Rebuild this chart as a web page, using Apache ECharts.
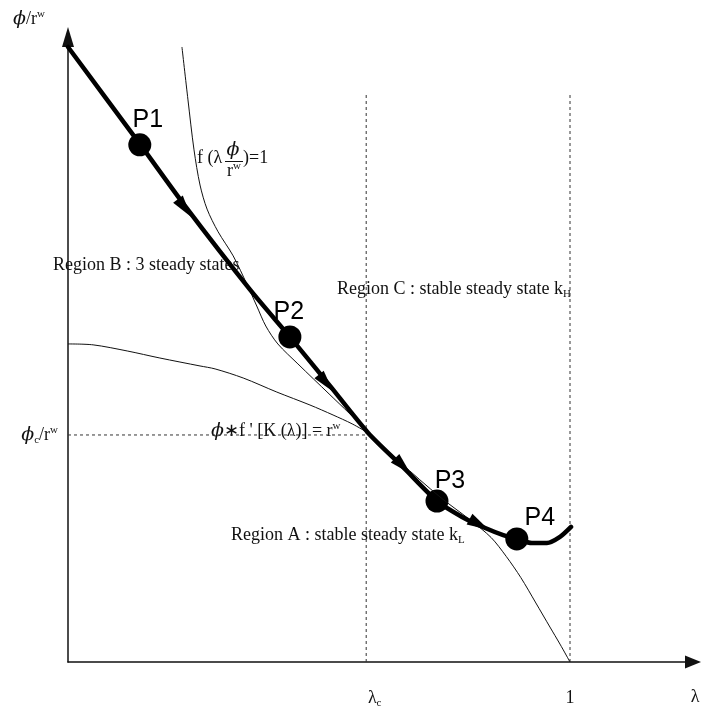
<!DOCTYPE html>
<html>
<head>
<meta charset="utf-8">
<script src="https://cdn.jsdelivr.net/npm/echarts@6/dist/echarts.min.js"></script>
<style>
  html, body { margin: 0; padding: 0; background: #fff; }
  #chart { width: 701px; height: 715px; }
</style>
</head>
<body>
<div id="chart"></div>
<script>
// Critical thresholds
const lambdaC = 0.594;
const phiC = 1.0;
const guideTop = 2.5;

// Tick labels ("_" = subscript, "^" = superscript)
const xTickValues = [lambdaC, 1];
const xTickLabels = ['λ_c', '1'];
const yTickValues = [phiC];
const yTickLabels = ['ϕ_c/r^w'];

// Adjustment path of the economy (thick line)
const pathLambda = [0.000, 0.143, 0.233, 0.363, 0.442, 0.522, 0.598, 0.667, 0.735, 0.785, 0.831, 0.867, 0.894, 0.924, 0.954, 0.980, 1.002];
const pathPhi    = [2.709, 2.282, 2.009, 1.639, 1.432, 1.216, 1.009, 0.859, 0.709, 0.639, 0.590, 0.559, 0.542, 0.524, 0.524, 0.551, 0.595];

// f(λ ϕ / r^w) = 1
const fLambda = [0.227, 0.239, 0.251, 0.263, 0.277, 0.299, 0.329, 0.357, 0.376, 0.394, 0.418, 0.458, 0.520, 0.560, 0.598, 0.661, 0.741, 0.801, 0.843, 0.873, 0.902, 0.932, 0.960, 0.980, 1.000];
const fPhi    = [2.709, 2.476, 2.256, 2.101, 1.995, 1.895, 1.789, 1.661, 1.568, 1.480, 1.401, 1.313, 1.181, 1.096, 1.013, 0.881, 0.727, 0.626, 0.548, 0.465, 0.372, 0.260, 0.154, 0.079, 0.000];

// ϕ * f'[K(λ)] = r^w
const mLambda = [0.000, 0.050, 0.118, 0.183, 0.263, 0.293, 0.349, 0.416, 0.482, 0.528, 0.566, 0.598];
const mPhi    = [1.401, 1.397, 1.370, 1.339, 1.304, 1.291, 1.251, 1.189, 1.132, 1.088, 1.049, 1.009];

// Named states along the path
const stateNames  = ['P1', 'P2', 'P3', 'P4'];
const stateLambda = [0.143, 0.442, 0.735, 0.894];
const statePhi    = [2.278, 1.432, 0.709, 0.542];

// Direction markers along the path
const arrowLambda = [0.232, 0.514, 0.667, 0.819];
const arrowPhi    = [2.000, 1.229, 0.863, 0.606];

// ---- styling ----
const serif = "'Liberation Serif', 'Times New Roman', serif";
const greek = "'DejaVu Serif', 'Liberation Serif', serif";
const sans = "'Liberation Sans', Arial, sans-serif";
const arrowRotate = [-143.7, -140.7, -135, -118.8];
const stateLabelOffset = [[8, -25], [-1, -25], [13, -20], [23, -21]];

function pairs(xs, ys) { return xs.map((x, i) => [x, ys[i]]); }

// Turn "a_b^c" into rich-text tokens; ϕ gets its own glyph style
function rt(s) {
  let out = '', buf = '';
  const flush = () => { if (buf) { out += '{m|' + buf + '}'; buf = ''; } };
  for (let i = 0; i < s.length; i++) {
    const c = s[i];
    if ((c === '_' || c === '^') && i + 1 < s.length) {
      flush();
      out += '{' + (c === '_' ? 'sub' : 'sup') + '|' + s[i + 1] + '}';
      i++;
    } else if (c === 'ϕ') {
      flush();
      out += '{g|ϕ}';
    } else buf += c;
  }
  flush();
  return out;
}

function richSet(colorKey) {
  const mk = (o) => Object.assign(o, { [colorKey]: '#111' });
  return {
    m:   mk({ fontFamily: serif, fontSize: 18, lineHeight: 21 }),
    g:   mk({ fontFamily: greek, fontSize: 19, fontStyle: 'italic', lineHeight: 21 }),
    sub: mk({ fontFamily: serif, fontSize: 11, lineHeight: 11, verticalAlign: 'bottom' }),
    sup: mk({ fontFamily: serif, fontSize: 11, lineHeight: 11, verticalAlign: 'top' })
  };
}
const axisRich = richSet('color');
const gRich = richSet('fill');

function note(x, y, s, align) {
  return {
    type: 'text', x: x, y: y, silent: true,
    style: { text: rt(s), rich: gRich, align: align || 'left', verticalAlign: 'middle',
             textAlign: align || 'left', textVerticalAlign: 'middle' }
  };
}

const chart = echarts.init(document.getElementById('chart'), null, { renderer: 'canvas' });

const dashed = { type: [3, 3], width: 1, color: '#333' };

chart.setOption({
  animation: false,
  backgroundColor: '#fff',
  grid: { left: 68, right: 8, top: 37, bottom: 53 },
  xAxis: {
    type: 'value', min: 0, max: 1.245,
    splitLine: { show: false },
    axisTick: { show: false },
    axisLine: { onZero: false, lineStyle: { color: '#111', width: 1.5 },
                symbol: ['none', 'triangle'], symbolSize: [13, 16] },
    axisLabel: {
      customValues: xTickValues,
      formatter: v => {
        const s = xTickLabels[xTickValues.findIndex(t => Math.abs(t - v) < 1e-6)] || '';
        return s.indexOf('_') >= 0 ? '{pad|}' + rt(s) : rt(s);
      },
      margin: 26,
      rich: Object.assign({ pad: { width: 17 } }, axisRich)
    }
  },
  yAxis: {
    type: 'value', min: 0, max: 2.753,
    splitLine: { show: false },
    axisTick: { show: false },
    axisLine: { onZero: false, lineStyle: { color: '#111', width: 1.5 },
                symbol: ['none', 'triangle'], symbolSize: [12, 20] },
    axisLabel: {
      customValues: yTickValues,
      formatter: v => rt(yTickLabels[yTickValues.findIndex(t => Math.abs(t - v) < 1e-6)] || ''),
      margin: 10, rich: axisRich
    }
  },
  series: [
    { type: 'line', silent: true, symbol: 'none', lineStyle: dashed,
      data: [[lambdaC, 0], [lambdaC, guideTop]] },
    { type: 'line', silent: true, symbol: 'none', lineStyle: dashed,
      data: [[1, 0], [1, guideTop]] },
    { type: 'line', silent: true, symbol: 'none', lineStyle: dashed,
      data: [[0, phiC], [lambdaC, phiC]] },
    { type: 'line', silent: true, symbol: 'none', smooth: 0.3,
      lineStyle: { width: 1, color: '#111' }, data: pairs(fLambda, fPhi) },
    { type: 'line', silent: true, symbol: 'none', smooth: 0.3,
      lineStyle: { width: 1, color: '#111' }, data: pairs(mLambda, mPhi) },
    { type: 'line', silent: true, symbol: 'none', smooth: 0.25,
      lineStyle: { width: 4.5, color: '#000', cap: 'round', join: 'round' },
      data: pairs(pathLambda, pathPhi) },
    { type: 'scatter', silent: true, symbol: 'triangle', symbolSize: [12, 22],
      itemStyle: { color: '#000', opacity: 1 },
      data: arrowLambda.map((x, i) => ({ value: [x, arrowPhi[i]], symbolRotate: arrowRotate[i] })) },
    { type: 'scatter', silent: true, symbol: 'circle', symbolSize: 23,
      itemStyle: { color: '#000', opacity: 1 },
      data: stateNames.map((n, i) => ({
        name: n, value: [stateLambda[i], statePhi[i]],
        label: { offset: stateLabelOffset[i] }
      })),
      label: { show: true, position: 'inside', formatter: '{b}',
               fontFamily: sans, fontSize: 25, color: '#000' } }
  ],
  graphic: [
    note(13, 19, 'ϕ/r^w'),
    note(197, 158, 'f (λ'),
    note(233, 150, 'ϕ', 'center'),
    { type: 'line', silent: true, shape: { x1: 225, y1: 161.5, x2: 243, y2: 161.5 },
      style: { stroke: '#111', lineWidth: 1 } },
    note(234, 171, 'r^w', 'center'),
    note(243, 158, ')=1'),
    note(53, 265, 'Region B : 3 steady states'),
    note(337, 289, 'Region C : stable steady state k_H'),
    note(211, 431, "ϕ∗f ' [K (λ)] = r^w"),
    note(231, 535, 'Region A : stable steady state k_L'),
    note(695, 697, 'λ', 'center')
  ]
});
</script>
</body>
</html>
